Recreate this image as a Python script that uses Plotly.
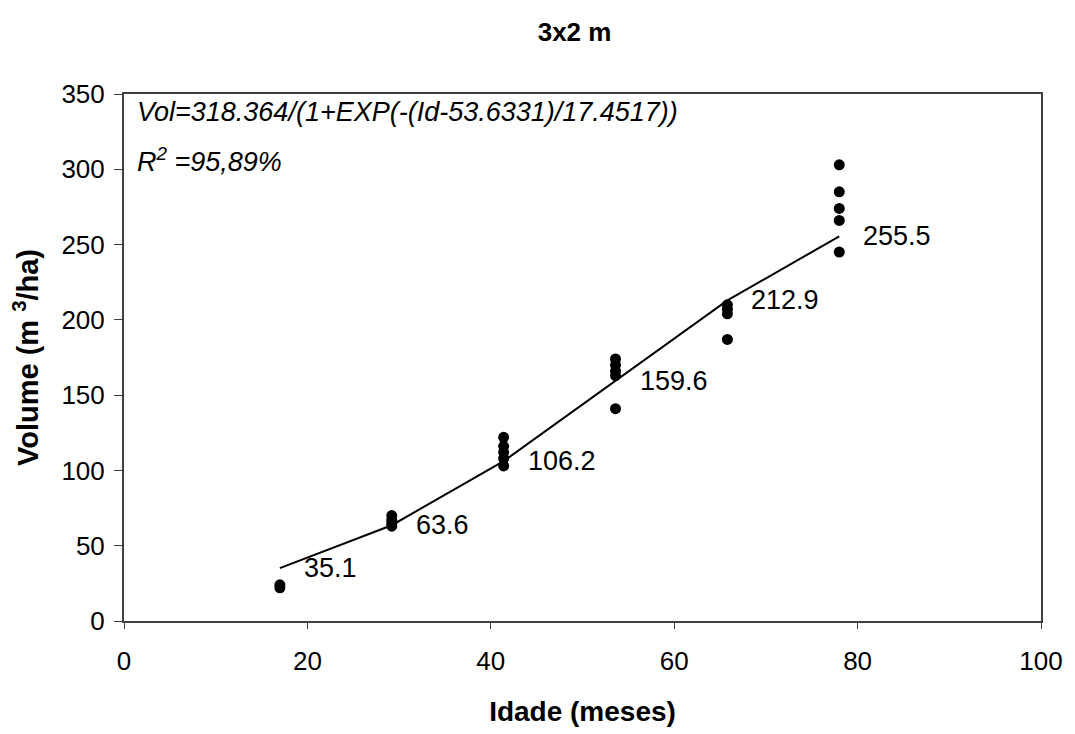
import plotly.graph_objects as go

# observed stands (age in months, volume m3/ha)
obs_idade = [17, 17,
             29.2, 29.2, 29.2, 29.2,
             41.4, 41.4, 41.4, 41.4, 41.4,
             53.6, 53.6, 53.6, 53.6, 53.6,
             65.8, 65.8, 65.8, 65.8,
             78, 78, 78, 78, 78]
obs_vol = [22, 24,
           63, 65, 67, 70,
           103, 108, 112, 116, 122,
           141, 163, 166, 170, 174,
           187, 204, 207, 210,
           245, 266, 274, 285, 303]

# fitted logistic model at each age
fit_idade = [17, 29.2, 41.4, 53.6, 65.8, 78]
fit_vol = [35.1, 63.6, 106.2, 159.6, 212.9, 255.5]
fit_labels = ["35.1", "63.6", "106.2", "159.6", "212.9", "255.5"]

AXIS_COLOR = "#404040"
FONT = "Liberation Sans, Arial"

fig = go.Figure()
fig.add_trace(go.Scatter(
    x=fit_idade, y=fit_vol, mode="lines",
    line=dict(color="black", width=2), showlegend=False,
))
fig.add_trace(go.Scatter(
    x=obs_idade, y=obs_vol, mode="markers",
    marker=dict(color="black", size=11), showlegend=False,
))

annotations = [
    dict(x=xv, y=yv, text=lab, xref="x", yref="y", showarrow=False,
         xanchor="left", yanchor="middle", xshift=22,
         font=dict(family=FONT, size=27, color="black"))
    for xv, yv, lab in zip(fit_idade, fit_vol, fit_labels)
]
annotations += [
    dict(text="<i>Vol=318.364/(1+EXP(-(Id-53.6331)/17.4517))</i>",
         xref="paper", yref="paper", x=0.012, y=0.966, xanchor="left", yanchor="middle",
         showarrow=False, font=dict(family=FONT, size=27, color="black")),
    dict(text="<i>R<sup>2</sup> =95,89%</i>",
         xref="paper", yref="paper", x=0.012, y=0.875, xanchor="left", yanchor="middle",
         showarrow=False, font=dict(family=FONT, size=27, color="black")),
]

fig.update_layout(
    width=1067, height=726,
    paper_bgcolor="white", plot_bgcolor="white",
    margin=dict(l=116, r=26, t=86, b=112),
    title=dict(text="<b>3x2 m</b>", x=0.531, xanchor="center", y=0.967, yanchor="middle",
               font=dict(family=FONT, size=26, color="black")),
    xaxis=dict(
        range=[0, 100], tickvals=[0, 20, 40, 60, 80, 100],
        showgrid=False, zeroline=False,
        showline=True, linecolor=AXIS_COLOR, linewidth=2, mirror=True,
        ticks="outside", ticklen=6, tickcolor=AXIS_COLOR,
        ticklabelstandoff=10,
        tickfont=dict(family=FONT, size=26, color="black"),
        title=dict(text="<b>Idade (meses)</b>", standoff=26,
                   font=dict(family=FONT, size=28, color="black")),
    ),
    yaxis=dict(
        range=[0, 350], tickvals=[0, 50, 100, 150, 200, 250, 300, 350],
        showgrid=False, zeroline=False,
        showline=True, linecolor=AXIS_COLOR, linewidth=2, mirror=True,
        ticks="outside", ticklen=8, tickcolor=AXIS_COLOR,
        ticklabelstandoff=4,
        tickfont=dict(family=FONT, size=26, color="black"),
        title=dict(text="<b>Volume (m <sup>3</sup>/ha)</b>", standoff=14,
                   font=dict(family=FONT, size=29, color="black")),
    ),
    annotations=annotations,
)

fig.write_html("out.html")
